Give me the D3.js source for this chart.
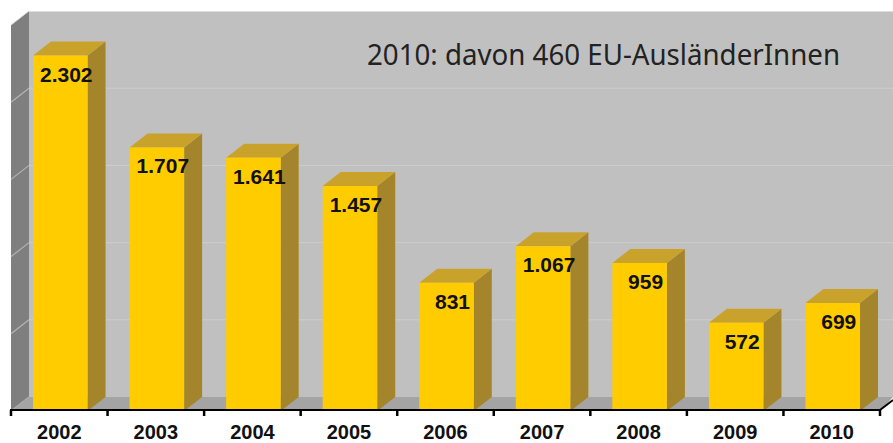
<!DOCTYPE html>
<html><head><meta charset="utf-8">
<script src="https://cdn.jsdelivr.net/npm/d3@7/dist/d3.min.js"></script>
<style>
html,body{margin:0;padding:0;background:#fff;}
svg{display:block;}
</style></head>
<body>
<svg id="chart" width="893" height="443"></svg>
<script>
const years = ["2002","2003","2004","2005","2006","2007","2008","2009","2010"];
const values = [2302,1707,1641,1457,831,1067,959,572,699];
const valueLabels = ["2.302","1.707","1.641","1.457","831","1.067","959","572","699"];
const gridValues = [0,500,1000,1500,2000,2500];
const note = "2010: davon 460 EU-AusländerInnen";

const W = 893, H = 443;
const DX = 18, DY = 14;
const svg = d3.select("#chart");

const x = d3.scaleBand().domain(years).range([11, 880]).padding(0);
const y = d3.scaleLinear().domain([0, 2500]).range([411, 25]);
const step = x.step();
const barOff = step * 0.228, barW = step * 0.565;

// back wall
svg.append("rect").attr("x", 11 + DX).attr("y", y(2500) - DY)
  .attr("width", W - (11 + DX)).attr("height", y(0) - y(2500))
  .attr("fill", "#c0c0c0");
svg.append("line").attr("x1", 11 + DX).attr("x2", W).attr("y1", y(2500) - DY + 0.5).attr("y2", y(2500) - DY + 0.5)
  .attr("stroke", "#dcdcdc").attr("stroke-width", 1);

// back gridlines
svg.selectAll(".grid").data(gridValues.slice(1, -1)).enter().append("line")
  .attr("x1", 11 + DX).attr("x2", W)
  .attr("y1", d => y(d) - DY).attr("y2", d => y(d) - DY)
  .attr("stroke", "#cdcdcd").attr("stroke-width", 1);

// left wall
svg.append("path")
  .attr("d", `M11,${y(2500)} L${11 + DX},${y(2500) - DY} L${11 + DX},${y(0) - DY} L11,${y(0)} Z`)
  .attr("fill", "#7f7f7f");
svg.selectAll(".lgrid").data(gridValues.slice(0, -1)).enter().append("line")
  .attr("x1", 11).attr("x2", 11 + DX)
  .attr("y1", d => y(d)).attr("y2", d => y(d) - DY)
  .attr("stroke", "#b4b4b4").attr("stroke-width", 1.2);
svg.append("line").attr("x1", 11).attr("x2", 11 + DX)
  .attr("y1", y(2500)).attr("y2", y(2500) - DY)
  .attr("stroke", "#dcdcdc").attr("stroke-width", 1);

// floor
svg.append("path")
  .attr("d", `M${11 + DX},${y(0) - DY} L${W},${y(0) - DY} L${880},${y(0)} L11,${y(0)} Z`)
  .attr("fill", "#a4a4a4");

// bars
const bars = svg.selectAll(".bar").data(years).enter().append("g");
bars.append("path")
  .attr("d", (d, i) => {
    const x1 = x(d) + barOff + barW, yt = y(values[i]);
    return `M${x1},${yt} L${x1 + DX},${yt - DY} L${x1 + DX},${y(0) - DY} L${x1},${y(0)} Z`;
  })
  .attr("fill", "#a5852b");
bars.append("path")
  .attr("d", (d, i) => {
    const x0 = x(d) + barOff, x1 = x0 + barW, yt = y(values[i]);
    return `M${x0},${yt} L${x0 + DX},${yt - DY} L${x1 + DX},${yt - DY} L${x1},${yt} Z`;
  })
  .attr("fill", "#c9a22c");
bars.append("rect")
  .attr("x", d => x(d) + barOff)
  .attr("y", (d, i) => y(values[i]))
  .attr("width", barW)
  .attr("height", (d, i) => y(0) - y(values[i]) - 2)
  .attr("fill", "#ffcc00");
bars.append("text")
  .attr("x", d => x(d) + barOff + barW / 2 + 6)
  .attr("y", (d, i) => y(values[i]) + 26)
  .attr("text-anchor", "middle")
  .attr("font-family", "Liberation Sans, Arial, sans-serif")
  .attr("font-weight", "bold").attr("font-size", 21)
  .attr("fill", "#111")
  .text((d, i) => valueLabels[i]);

// axis
const axisY = 410;
const axis = d3.axisBottom(x).tickSize(0).tickPadding(15);
const ag = svg.append("g").attr("transform", `translate(0,${axisY})`).call(axis);
ag.select(".domain").remove();
ag.selectAll("text")
  .attr("font-family", "Liberation Sans, Arial, sans-serif")
  .attr("font-weight", "bold").attr("font-size", 20).attr("fill", "#111");
svg.append("line").attr("x1", 10).attr("x2", 881).attr("y1", axisY).attr("y2", axisY)
  .attr("stroke", "#000").attr("stroke-width", 2);
svg.append("line").attr("x1", 880).attr("x2", W).attr("y1", axisY).attr("y2", axisY - 10)
  .attr("stroke", "#000").attr("stroke-width", 2);
const bounds = years.map(d => x(d)).concat([x.range()[1]]);
svg.selectAll(".tk").data(bounds).enter().append("line")
  .attr("x1", d => d).attr("x2", d => d)
  .attr("y1", axisY).attr("y2", axisY + 6)
  .attr("stroke", "#000").attr("stroke-width", 2.5);

// note
svg.append("text").attr("x", 367).attr("y", 65)
  .attr("font-family", "Noto Sans, Open Sans, sans-serif")
  .attr("font-size", 29).attr("fill", "#222")
  .attr("textLength", 473).attr("lengthAdjust", "spacingAndGlyphs")
  .text(note);
</script>
</body></html>
